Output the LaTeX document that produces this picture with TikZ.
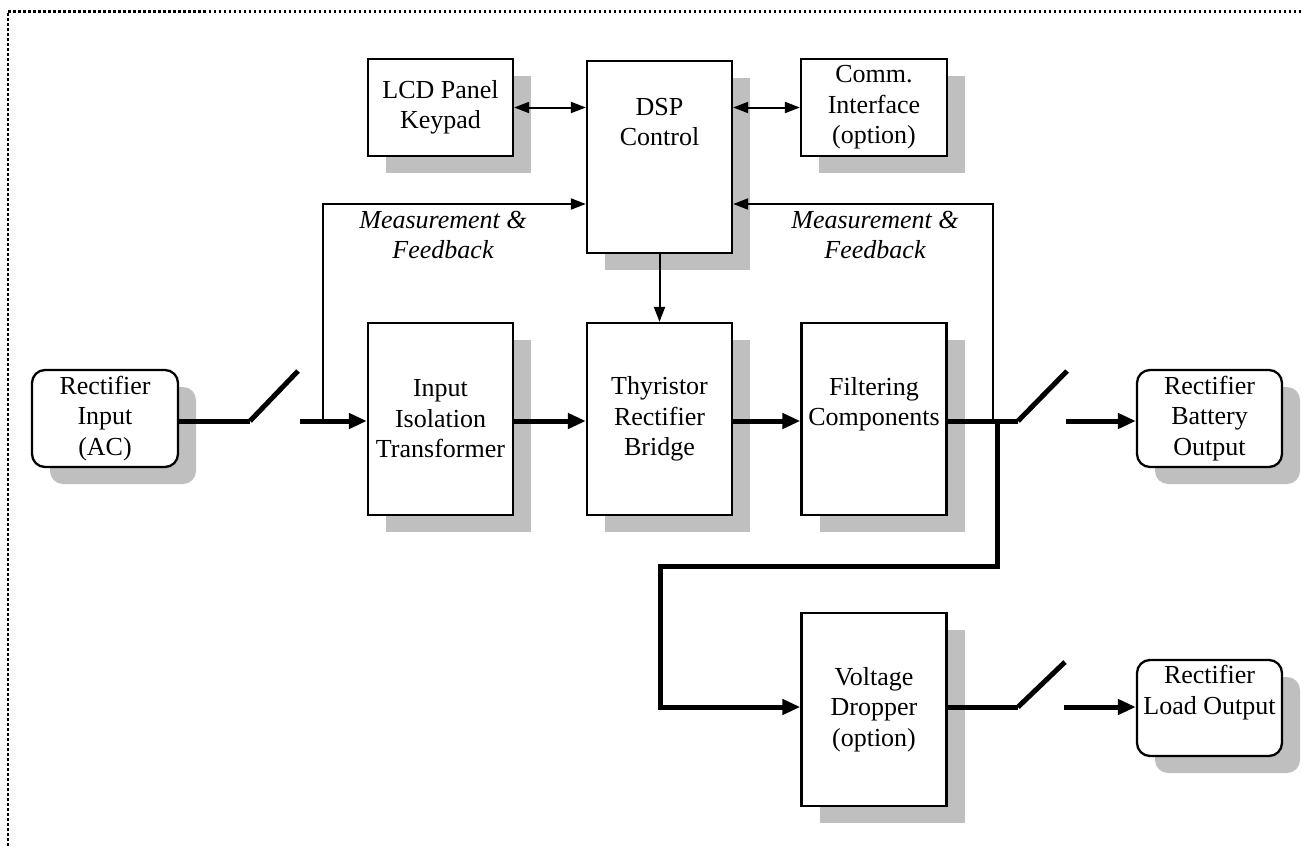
\documentclass[tikz,border=0pt]{standalone}
\usepackage{fontspec}
\setmainfont{Liberation Serif}
\usetikzlibrary{arrows.meta,shadows,calc}
\definecolor{shadowgray}{HTML}{BFBFBF}
\begin{document}
\begin{tikzpicture}[x=1pt,y=-1pt,
  every node/.style={font=\fontsize{26}{30.5}\selectfont},
  blk/.style={draw, line width=2.3pt, fill=white, inner sep=0pt, align=center,
    drop shadow={shadow xshift=18pt,shadow yshift=-17pt,fill=shadowgray,opacity=1}},
  rblk/.style={blk, rounded corners=13pt},
  smallbox/.style={minimum width=145pt, minimum height=97pt},
  tallbox/.style={minimum width=145pt, minimum height=192pt},
  txt/.style={align=center, inner sep=0pt},
  lbl/.style={align=center, inner sep=0pt, font=\fontsize{26}{30.5}\selectfont\itshape},
  sig/.style={line width=2pt},
  sigarr/.style={sig, -{Triangle[length=15pt,width=11pt]}},
  sigdbl/.style={sig, {Triangle[length=15pt,width=11pt]}-{Triangle[length=15pt,width=11pt]}},
  pwr/.style={line width=5pt},
  pwrarr/.style={pwr, -{Triangle[length=18pt,width=15pt]}},
  border/.style={line width=2.7pt, dash pattern=on 2.7pt off 2.3pt}
]
\useasboundingbox (0,0) rectangle (1303,846);

% border
\draw[border] (8,846) -- (8,11.5) -- (1303,11.5);

% nodes
\node[blk, smallbox] (lcd) at (440.5,107.5) {LCD Panel\\Keypad};
\node[blk, tallbox] (dsp) at (659.5,157) {};
\node[txt] (dspt) at (659.5,122) {DSP\\Control};
\node[blk, smallbox, minimum width=146pt] (comm) at (874,107.5) {Comm.\\Interface\\(option)};

\node[rblk, smallbox, minimum width=146pt] (rin) at (105,418.5) {Rectifier\\Input\\(AC)};
\node[blk, tallbox] (iso) at (440.5,419) {Input\\Isolation\\Transformer};
\node[blk, tallbox] (thy) at (659.5,419) {Thyristor\\Rectifier\\Bridge};
\node[blk, tallbox] (fil) at (874,419) {};
\node[txt] (filt) at (874,404) {Filtering\\Components};
\node[rblk, smallbox] (bat) at (1209.5,418.5) {Rectifier\\Battery\\Output};

\node[blk, tallbox, minimum height=193pt] (drop) at (874,709.5) {Voltage\\Dropper\\(option)};
\node[rblk, smallbox, minimum height=96pt] (load) at (1209.5,708) {};
\node[txt] (loadt) at (1209.5,692.5) {Rectifier\\Load Output};

\node[lbl] (mfl) at (443,235) {Measurement \&\\Feedback};
\node[lbl] (mfr) at (875,235) {Measurement \&\\Feedback};

% signal connectors
\draw[sigdbl] (lcd.east) -- (lcd.east -| dsp.west);
\draw[sigdbl] (comm.west -| dsp.east) -- (comm.west);
\draw[sigarr] (dsp.south) -- (thy.north);

\coordinate (fbL) at (323,421);
\coordinate (fbLt) at (323,204);
\draw[sigarr] (fbL) -- (fbLt) -- (fbLt -| dsp.west);
\coordinate (fbR) at (993,421);
\coordinate (fbRt) at (993,204);
\draw[sigarr] (fbR) -- (fbRt) -- (fbRt -| dsp.east);

% power path
\coordinate (s1a) at (250,421);
\coordinate (s1b) at (298,371);
\coordinate (s1c) at (300,421);
\draw[pwr] (rin.east |- s1a) -- (s1a);
\draw[pwr] (s1a) -- (s1b);
\draw[pwrarr] (s1c) -- (iso.west |- s1c);
\draw[pwrarr] (iso.east |- s1a) -- (thy.west |- s1a);
\draw[pwrarr] (thy.east |- s1a) -- (fil.west |- s1a);

\coordinate (s2a) at (1018,421);
\coordinate (s2b) at (1067,371);
\coordinate (s2c) at (1066,421);
\draw[pwr] (fil.east |- s2a) -- (s2a);
\draw[pwr] (s2a) -- (s2b);
\draw[pwrarr] (s2c) -- (bat.west |- s2c);

\coordinate (br0) at (997,421);
\coordinate (br1) at (997,566);
\coordinate (br2) at (660,566);
\coordinate (br3) at (660,707);
\draw[pwrarr] (br0) -- (br1) -- (br2) -- (br3) -- (drop.west |- br3);

\coordinate (s3a) at (1018,707);
\coordinate (s3b) at (1065,662);
\coordinate (s3c) at (1064,707);
\draw[pwr] (drop.east |- s3a) -- (s3a);
\draw[pwr] (s3a) -- (s3b);
\draw[pwrarr] (s3c) -- (load.west |- s3c);
\end{tikzpicture}
\end{document}
